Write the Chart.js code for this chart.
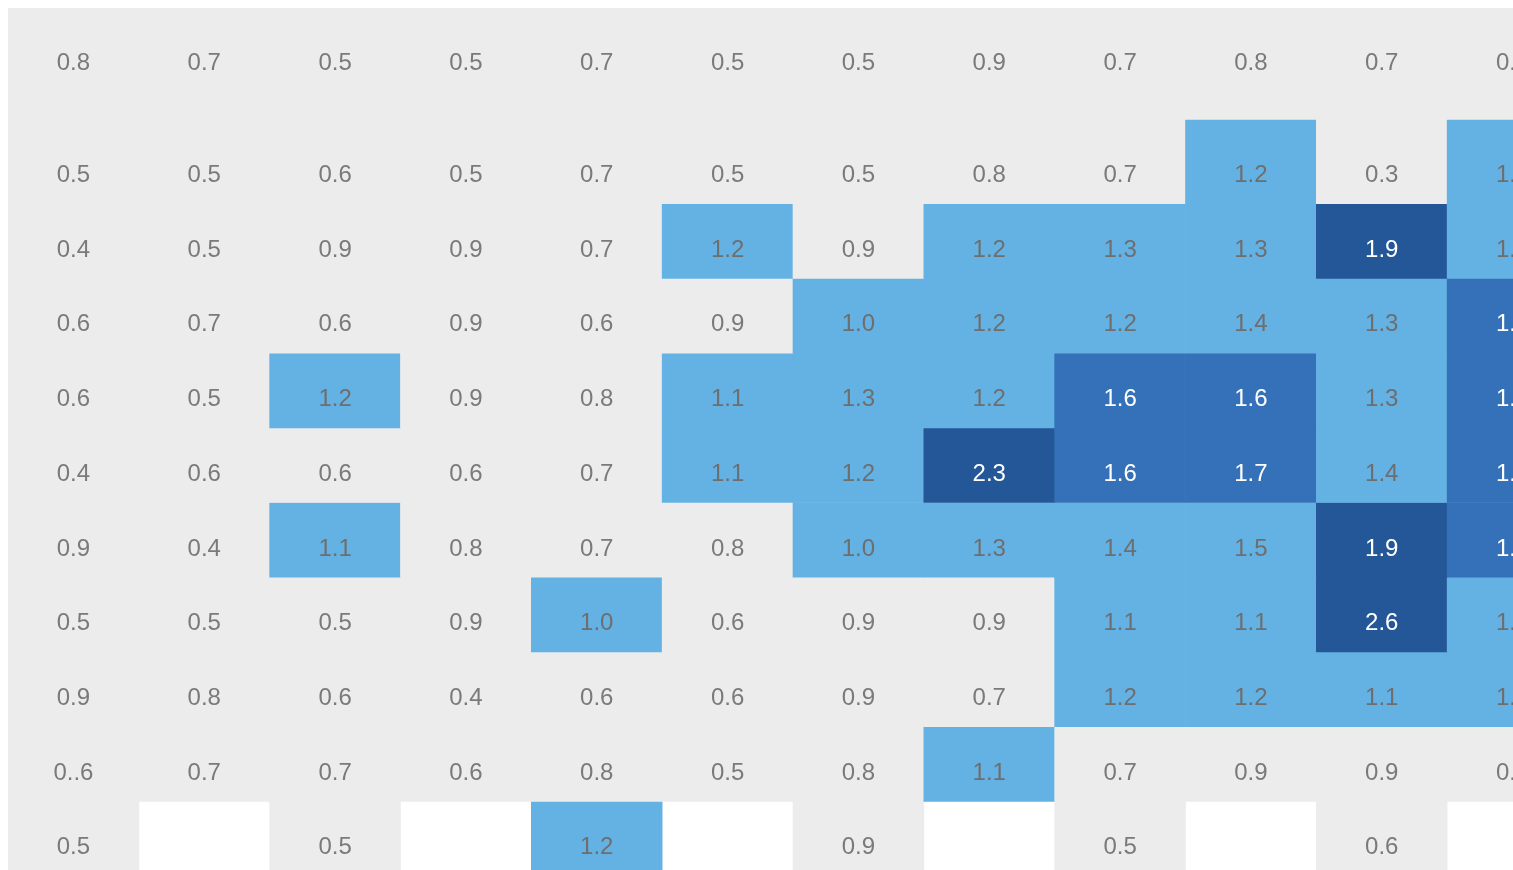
<!DOCTYPE html>
<html>
<head>
<meta charset="utf-8">
<script src="https://cdn.jsdelivr.net/npm/chart.js@4"></script>
<style>
  html { overflow: hidden; background: #fff; }
  body { margin: 8px; width: 1570px; }
  canvas { display: block; }
</style>
</head>
<body>
<canvas id="heatChart" width="1570" height="868"></canvas>
<script>
// columns of the grid (only 12 fit on screen)
const columns = ['c1', 'c2', 'c3', 'c4', 'c5', 'c6', 'c7', 'c8', 'c9', 'c10', 'c11', 'c12'];

// cell values, one array per row (null = empty cell)
const row1  = [0.8, 0.7, 0.5, 0.5, 0.7, 0.5, 0.5, 0.9, 0.7, 0.8, 0.7, 0.8];
const row2  = [0.5, 0.5, 0.6, 0.5, 0.7, 0.5, 0.5, 0.8, 0.7, 1.2, 0.3, 1.2];
const row3  = [0.4, 0.5, 0.9, 0.9, 0.7, 1.2, 0.9, 1.2, 1.3, 1.3, 1.9, 1.3];
const row4  = [0.6, 0.7, 0.6, 0.9, 0.6, 0.9, 1.0, 1.2, 1.2, 1.4, 1.3, 1.6];
const row5  = [0.6, 0.5, 1.2, 0.9, 0.8, 1.1, 1.3, 1.2, 1.6, 1.6, 1.3, 1.7];
const row6  = [0.4, 0.6, 0.6, 0.6, 0.7, 1.1, 1.2, 2.3, 1.6, 1.7, 1.4, 1.6];
const row7  = [0.9, 0.4, 1.1, 0.8, 0.7, 0.8, 1.0, 1.3, 1.4, 1.5, 1.9, 1.6];
const row8  = [0.5, 0.5, 0.5, 0.9, 1.0, 0.6, 0.9, 0.9, 1.1, 1.1, 2.6, 1.2];
const row9  = [0.9, 0.8, 0.6, 0.4, 0.6, 0.6, 0.9, 0.7, 1.2, 1.2, 1.1, 1.3];
const row10 = [0.6, 0.7, 0.7, 0.6, 0.8, 0.5, 0.8, 1.1, 0.7, 0.9, 0.9, 0.8];
const row11 = [0.5, null, 0.5, null, 1.2, null, 0.9, null, 0.5, null, 0.6, null];
const rows = [row1, row2, row3, row4, row5, row6, row7, row8, row9, row10, row11];

// the one label printed differently in the original ("row,col")
const labelOverrides = { '9,0': '0..6' };

// colour steps
const steps = [
  { below: 1.0,      fill: '#ececec', text: '#7a7a7a' },
  { below: 1.55,     fill: '#64b2e3', text: '#6e6e6e' },
  { below: 1.85,     fill: '#3571b8', text: '#ffffff' },
  { below: Infinity, fill: '#245797', text: '#ffffff' }
];
const stepFor = v => steps.find(s => v < s.below);

// row heights in "row units" (first two rows are taller)
const rowHeights = [1.49, 1.13, 1, 1, 1, 1, 1, 1, 1, 1, 1];
const rowEdges = [0];
rowHeights.forEach(h => rowEdges.push(rowEdges[rowEdges.length - 1] + h));
// baseline of the label measured up from the row's bottom edge
const labelLift = r => (r === 0 ? 0.66 : 0.29);

const datasets = rows.map((vals, r) => ({
  label: 'row' + (r + 1),
  data: vals.map(v => (v == null ? null : [rowEdges[r], rowEdges[r + 1]])),
  backgroundColor: vals.map(v => (v == null ? 'rgba(0,0,0,0)' : stepFor(v).fill)),
  borderWidth: 0,
  grouped: false,
  barPercentage: 1,
  categoryPercentage: 1
}));

const cellLabels = {
  id: 'cellLabels',
  afterDatasetsDraw(chart) {
    const ctx = chart.ctx;
    const yScale = chart.scales.y;
    ctx.save();
    ctx.font = '300 24px "Liberation Sans", Arial, sans-serif';
    ctx.textAlign = 'center';
    ctx.textBaseline = 'alphabetic';
    rows.forEach((vals, r) => {
      const meta = chart.getDatasetMeta(r);
      vals.forEach((v, c) => {
        if (v == null) return;
        const bar = meta.data[c];
        const text = labelOverrides[r + ',' + c] || v.toFixed(1);
        ctx.fillStyle = stepFor(v).text;
        ctx.fillText(text, bar.x, yScale.getPixelForValue(rowEdges[r + 1] - labelLift(r)));
      });
    });
    ctx.restore();
  }
};

new Chart(document.getElementById('heatChart').getContext('2d'), {
  type: 'bar',
  data: { labels: columns, datasets: datasets },
  options: {
    responsive: false,
    animation: false,
    layout: { padding: 0 },
    plugins: { legend: { display: false }, tooltip: { enabled: false } },
    scales: {
      x: { display: false, grid: { display: false } },
      y: { display: false, reverse: true, min: 0, max: rowEdges[rowEdges.length - 1] }
    }
  },
  plugins: [cellLabels]
});
</script>
</body>
</html>
